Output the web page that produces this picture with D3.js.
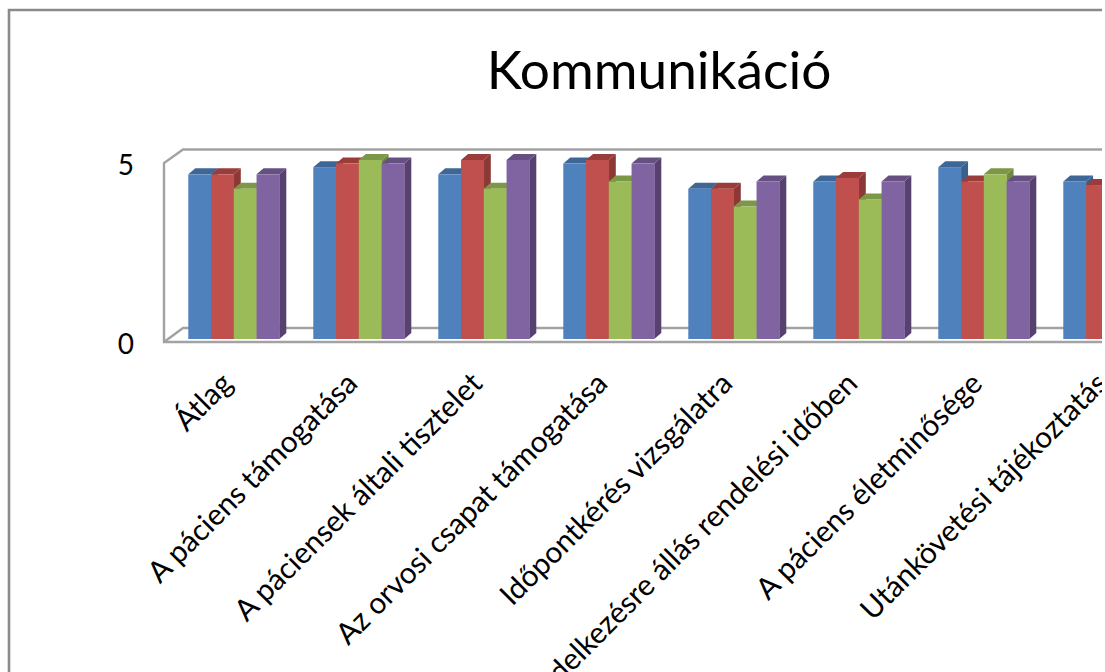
<!DOCTYPE html>
<html lang="hu">
<head>
<meta charset="utf-8">
<title>Kommunikáció</title>
<script src="https://cdn.jsdelivr.net/npm/d3@7/dist/d3.min.js"></script>
<style>
  html, body { margin: 0; background: #fff; }
  svg { display: block; }
  text { font-family: Lato, "Open Sans", sans-serif; fill: #000; }
</style>
</head>
<body>
<div id="chart"></div>
<script>
const chartTitle = "Kommunikáció";
const categories = [
  "Átlag",
  "A páciens támogatása",
  "A páciensek általi tisztelet",
  "Az orvosi csapat támogatása",
  "Időpontkérés vizsgálatra",
  "Rendelkezésre állás rendelési időben",
  "A páciens életminősége",
  "Utánkövetési tájékoztatás"
];
const seriesNames = ["s1", "s2", "s3", "s4"];
const blueValues   = [4.6, 4.8, 4.6, 4.9, 4.2, 4.4, 4.8, 4.4];
const redValues    = [4.6, 4.9, 5.0, 5.0, 4.2, 4.5, 4.4, 4.3];
const greenValues  = [4.2, 5.0, 4.2, 4.4, 3.7, 3.9, 4.6];
const purpleValues = [4.6, 4.9, 5.0, 4.9, 4.4, 4.4, 4.4];
const seriesValues = [blueValues, redValues, greenValues, purpleValues];
const valueTicks = [0, 5];

const frontColors = ["#4f81bd", "#c0504d", "#9bbb59", "#8064a2"];
const topColors   = ["#3e6798", "#9a3d3a", "#7c9847", "#665082"];
const sideColors  = ["#385f8d", "#8c3836", "#6f8a40", "#57416f"];

const W = 1105, H = 672, visibleW = 1102;
const depthX = 7, depthY = 6;
const wallLeft = 164, wallTop = 163, wallBottom = 342;
const backLeft = 183, backTop = 149.5, backBottom = 328;

const svg = d3.select("#chart").append("svg").attr("width", W).attr("height", H);
svg.append("clipPath").attr("id", "page")
  .append("rect").attr("width", visibleW).attr("height", H);
const root = svg.append("g").attr("clip-path", "url(#page)");

// Outer chart border, running off the right and bottom of the page
root.append("path")
  .attr("d", `M9,${H + 5}V10H${W + 5}`)
  .attr("fill", "none").attr("stroke", "#8a8a8a").attr("stroke-width", 2.6);

root.append("text")
  .attr("x", 659).attr("y", 89)
  .attr("text-anchor", "middle").attr("font-size", 53.2)
  .text(chartTitle);

// Scales: band positions for clusters and bars, linear for heights
const x0 = d3.scaleBand().domain(categories)
  .range([171.3, 1171.3]).paddingInner(0.272).paddingOuter(0.136);
const x1 = d3.scaleBand().domain(seriesNames).range([0, x0.bandwidth()]);
const yBar = d3.scaleLinear().domain([0, 5]).range([339, 160]);
const yAxis = d3.scaleLinear().domain([0, 5]).range([wallBottom, wallTop]);

// Perspective box behind the bars
const wallColor = "#a2a2a2";
const walls = root.append("g").attr("fill", "none")
  .attr("stroke", wallColor).attr("stroke-width", 2.4);
walls.append("path").attr("d",
  `M${W + 5},${backTop}H${backLeft}L${wallLeft},${wallTop}V${wallBottom}H${W + 5}`);
walls.append("path").attr("d",
  `M${wallLeft},${wallBottom}L${backLeft},${backBottom}H${W + 5}`);

// Value axis labels
const axis = d3.axisLeft(yAxis).tickValues(valueTicks).tickFormat(d3.format("d")).tickSize(0).tickPadding(0);
const axisG = root.append("g").attr("transform", "translate(134,2.5)").call(axis);
axisG.select(".domain").remove();
axisG.selectAll("text").attr("font-size", 28).style("font-family", "Lato, 'Open Sans', sans-serif").attr("fill", "#000");

// Bars, painted left to right so each front face hides its neighbour's side
const bars = root.append("g");
categories.forEach((cat, c) => {
  seriesNames.forEach((name, s) => {
    const v = seriesValues[s][c];
    if (v === undefined) return;
    const xa = x0(cat) + x1(name);
    const xb = xa + x1.bandwidth();
    const yt = yBar(v), yb = yBar(0);
    const g = bars.append("g");
    g.append("path").attr("fill", sideColors[s]).attr("d",
      `M${xb},${yt}L${xb + depthX},${yt - depthY}V${yb - depthY}L${xb},${yb}Z`);
    g.append("path").attr("fill", topColors[s]).attr("d",
      `M${xa},${yt}L${xa + depthX},${yt - depthY}H${xb + depthX}L${xb},${yt}Z`);
    g.append("rect").attr("fill", frontColors[s])
      .attr("x", xa).attr("y", yt)
      .attr("width", x1.bandwidth() + 0.3).attr("height", yb - yt);
  });
});

// Slanted category labels, anchored at their end under each cluster
const labels = root.append("g");
categories.forEach(cat => {
  const lx = x0(cat) + x0.bandwidth() / 2 - 5;
  labels.append("text")
    .attr("transform", `translate(${lx},380) rotate(-45)`)
    .attr("text-anchor", "end").attr("dominant-baseline", "middle")
    .attr("font-size", 29.7)
    .text(cat);
});
</script>
</body>
</html>
